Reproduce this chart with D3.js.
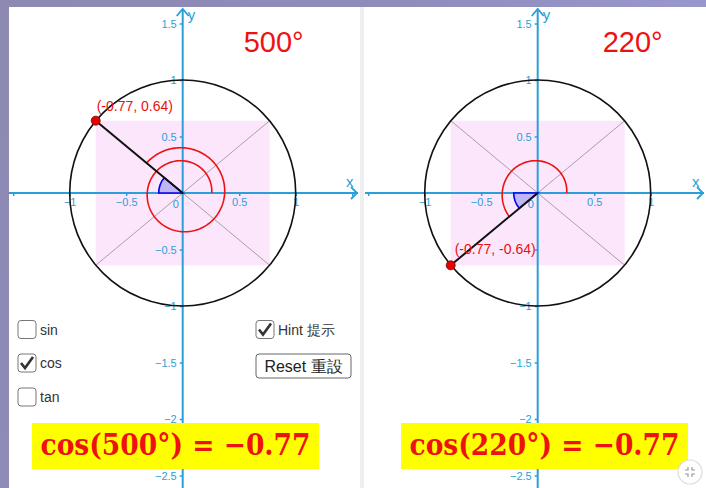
<!DOCTYPE html>
<html>
   <head>
      <script src="https://d3js.org/d3.v7.min.js"></script>
   </head>
   <style>
      body { margin: 0; overflow: hidden; }
   </style>
   <body>
      <script>
         let [width, height] = [706, 488];

         // data
         let angles = [500, 220];
         let pointX = [-0.77, -0.77];
         let pointY = [0.64, -0.64];
         let pointLabels = ['(-0.77, 0.64)', '(-0.77, -0.64)'];
         let formulas = ['cos(500°) = −0.77', 'cos(220°) = −0.77'];
         let xTicks = [-1.5, -1, -0.5, 0.5, 1, 1.5];
         let xTickLabels = ['', '−1', '−0.5', '0.5', '1', ''];
         let yTicks = [1.5, 1, 0.5, -0.5, -1, -1.5, -2, -2.5];
         let yTickLabels = ['1.5', '1', '0.5', '−0.5', '−1', '−1.5', '−2', '−2.5'];
         let boxNames = ['sin', 'cos', 'tan'];
         let boxChecked = [false, true, false];

         let axisColor = '#2a9fda';
         let panels = [
            { x0: 9, x1: 360, cx: 182.7 },
            { x0: 365, x1: 706, cx: 537.7 }
         ];
         let cy = 193, unit = 113;

         let svg = d3.select('body').append('svg').attr('width', width).attr('height', height);
         let defs = svg.append('defs');
         let grad = defs.append('linearGradient').attr('id', 'bg').attr('x1', 0).attr('x2', 1).attr('y1', 0).attr('y2', 0.3);
         grad.append('stop').attr('offset', 0).attr('stop-color', '#8c89b2');
         grad.append('stop').attr('offset', 0.5).attr('stop-color', '#8f8cbb');
         grad.append('stop').attr('offset', 1).attr('stop-color', '#9a99d0');
         svg.append('rect').attr('width', width).attr('height', height).attr('fill', 'url(#bg)');
         svg.append('rect').attr('x', 9).attr('y', 7).attr('width', width - 9).attr('height', height - 7).attr('fill', '#fff');
         svg.append('rect').attr('x', 360).attr('y', 7).attr('width', 4).attr('height', height - 7).attr('fill', '#eeeeee');

         panels.forEach((p, i) => {
            defs.append('clipPath').attr('id', 'clip' + i)
               .append('rect').attr('x', p.x0).attr('y', 7).attr('width', p.x1 - p.x0).attr('height', height - 7);
            let g = svg.append('g').attr('clip-path', `url(#clip${i})`);

            let x = d3.scaleLinear().domain([-1, 1]).range([p.cx - unit, p.cx + unit]);
            let y = d3.scaleLinear().domain([-1, 1]).range([cy + unit, cy - unit]);
            let ax = Math.abs(pointX[i]), ay = Math.abs(pointY[i]);

            // pink box of |cos|, |sin|
            g.append('rect')
               .attr('x', x(-ax)).attr('y', y(ay))
               .attr('width', x(ax) - x(-ax)).attr('height', y(-ay) - y(ay))
               .attr('fill', '#fce6fb');

            // diagonals
            [[-ax, ay, ax, -ay], [-ax, -ay, ax, ay]].forEach(d => {
               g.append('line')
                  .attr('x1', x(d[0])).attr('y1', y(d[1])).attr('x2', x(d[2])).attr('y2', y(d[3]))
                  .attr('stroke', '#a8a0a8').attr('stroke-width', 1);
            });

            // axes
            g.append('line').attr('x1', p.x0).attr('x2', p.x1 - 2).attr('y1', cy).attr('y2', cy)
               .attr('stroke', axisColor).attr('stroke-width', 2);
            g.append('path').attr('d', `M${p.x1 - 9},${cy - 6}L${p.x1 - 3},${cy}L${p.x1 - 9},${cy + 6}`)
               .attr('fill', 'none').attr('stroke', axisColor).attr('stroke-width', 1.8);
            g.append('text').attr('x', p.x1 - 14).attr('y', cy - 6).text('x')
               .attr('fill', axisColor).style('font-family', 'Liberation Sans').style('font-size', '15px');

            g.append('line').attr('x1', p.cx).attr('x2', p.cx).attr('y1', 9).attr('y2', height)
               .attr('stroke', axisColor).attr('stroke-width', 2);
            g.append('path').attr('d', `M${p.cx - 6},${16}L${p.cx},${9}L${p.cx + 6},${16}`)
               .attr('fill', 'none').attr('stroke', axisColor).attr('stroke-width', 1.8);
            g.append('text').attr('x', p.cx + 5).attr('y', 20).text('y')
               .attr('fill', axisColor).style('font-family', 'Liberation Sans').style('font-size', '15px');

            // the right panel's -0.5 label sits under the point label there
            let yLab = (d, k) => (i === 1 && d === -0.5) ? '' : yTickLabels[k];
            let xAxis = g.append('g').attr('transform', `translate(0,${cy})`)
               .call(d3.axisBottom(x).tickValues(xTicks).tickSize(3).tickSizeOuter(0)
                  .tickFormat((d, k) => xTickLabels[k]));
            let yAxis = g.append('g').attr('transform', `translate(${p.cx},0)`)
               .call(d3.axisLeft(y).tickValues(yTicks).tickSize(3).tickSizeOuter(0)
                  .tickFormat(yLab));
            [xAxis, yAxis].forEach(a => {
               a.select('.domain').remove();
               a.selectAll('line').attr('stroke', axisColor).attr('stroke-width', 1.5);
               a.selectAll('text').attr('fill', axisColor)
                  .style('font-family', 'Liberation Sans').style('font-size', '11px');
            });
            xAxis.selectAll('text').attr('y', 5);
            g.append('text').attr('x', x(0) - 7).attr('y', cy + 15).text('0')
               .attr('fill', axisColor).attr('text-anchor', 'middle')
               .style('font-family', 'Liberation Sans').style('font-size', '11px');

            // unit circle
            g.append('circle').attr('cx', x(0)).attr('cy', y(0)).attr('r', x(1) - x(0))
               .attr('fill', 'none').attr('stroke', '#111').attr('stroke-width', 1.6);

            // spiral showing rotation angle
            let deg = angles[i];
            let spiral = d3.range(0, deg + 0.5, 2).map(t => {
               let r = 29 + 0.036 * t;
               let a = t * Math.PI / 180;
               return [x(0) + r * Math.cos(a), y(0) - r * Math.sin(a)];
            });
            g.append('path').attr('d', d3.line()(spiral))
               .attr('fill', 'none').attr('stroke', '#ee1111').attr('stroke-width', 1.6);

            // reference angle sector
            let term = Math.atan2(pointY[i], pointX[i]);
            let a0 = Math.PI / 2 - Math.PI, a1 = Math.PI / 2 - (term < 0 ? term + 2 * Math.PI : term);
            g.append('path')
               .attr('d', d3.arc().innerRadius(0).outerRadius(24).startAngle(Math.min(a0, a1)).endAngle(Math.max(a0, a1))())
               .attr('transform', `translate(${x(0)},${y(0)})`)
               .attr('fill', '#bfb6f6').attr('stroke', '#0000ee').attr('stroke-width', 1.6);

            // radius to point
            g.append('line').attr('x1', x(0)).attr('y1', y(0)).attr('x2', x(pointX[i])).attr('y2', y(pointY[i]))
               .attr('stroke', '#111').attr('stroke-width', 2);
            g.append('circle').attr('cx', x(pointX[i])).attr('cy', y(pointY[i])).attr('r', 4.5)
               .attr('fill', '#e60000').attr('stroke', '#700').attr('stroke-width', 0.8);
            let lab = g.append('text').text(pointLabels[i]).attr('fill', '#e81010')
               .style('font-family', 'Liberation Sans').style('font-size', '14px');
            if (pointY[i] > 0) lab.attr('x', x(pointX[i]) + 1).attr('y', y(pointY[i]) - 10);
            else lab.attr('x', x(pointX[i]) + 4).attr('y', y(pointY[i]) - 11);

            // angle title
            g.append('text').attr('x', p.cx + (i === 0 ? 91 : 95)).attr('y', 52).text(deg + '°')
               .attr('text-anchor', 'middle').attr('fill', '#ee1111')
               .style('font-family', 'Liberation Sans').style('font-size', '29px');

            // formula box
            let fx = i === 0 ? 32 : 401;
            g.append('rect').attr('x', fx).attr('y', 423).attr('width', 287).attr('height', 46).attr('fill', '#ffff00');
            g.append('text').attr('x', fx + 143.5).attr('y', 455).text(formulas[i])
               .attr('text-anchor', 'middle').attr('fill', '#ee1111')
               .attr('textLength', 270).attr('lengthAdjust', 'spacingAndGlyphs')
               .style('font-family', 'DejaVu Serif').style('font-weight', 'bold').style('font-size', '29px');
         });

         // controls in the left panel
         let checkbox = (bx, by, on, label) => {
            svg.append('rect').attr('x', bx).attr('y', by).attr('width', 18).attr('height', 18).attr('rx', 3)
               .attr('fill', '#fff').attr('stroke', '#777').attr('stroke-width', 1);
            if (on) svg.append('path').attr('d', `M${bx + 3},${by + 9}L${bx + 7},${by + 14}L${bx + 15},${by + 3}`)
               .attr('fill', 'none').attr('stroke', '#333').attr('stroke-width', 2.6);
            svg.append('text').attr('x', bx + 22).attr('y', by + 14).text(label).attr('fill', '#333')
               .style('font-family', 'Liberation Sans').style('font-size', '14px');
         };
         boxNames.forEach((n, k) => checkbox(18, [320.5, 354, 388][k], boxChecked[k], n));
         checkbox(256, 320.5, true, 'Hint 提示');

         svg.append('rect').attr('x', 256).attr('y', 354).attr('width', 95).attr('height', 24).attr('rx', 3)
            .attr('fill', '#fff').attr('stroke', '#666').attr('stroke-width', 1);
         svg.append('text').attr('x', 303.5).attr('y', 372).text('Reset 重設').attr('text-anchor', 'middle')
            .attr('fill', '#222').style('font-family', 'Liberation Sans').style('font-size', '16px');

         // restore button bottom right
         svg.append('circle').attr('cx', 690).attr('cy', 472).attr('r', 12)
            .attr('fill', '#fff').attr('stroke', '#ddd').attr('stroke-width', 1.2);
         [[-1, -1], [1, -1], [-1, 1], [1, 1]].forEach(([sx, sy]) => {
            svg.append('path')
               .attr('d', `M${690 + sx * 2},${472 + sy * 5}L${690 + sx * 2},${472 + sy * 2}L${690 + sx * 5},${472 + sy * 2}`)
               .attr('fill', 'none').attr('stroke', '#999').attr('stroke-width', 1.2);
         });
      </script>
   </body>
</html>
